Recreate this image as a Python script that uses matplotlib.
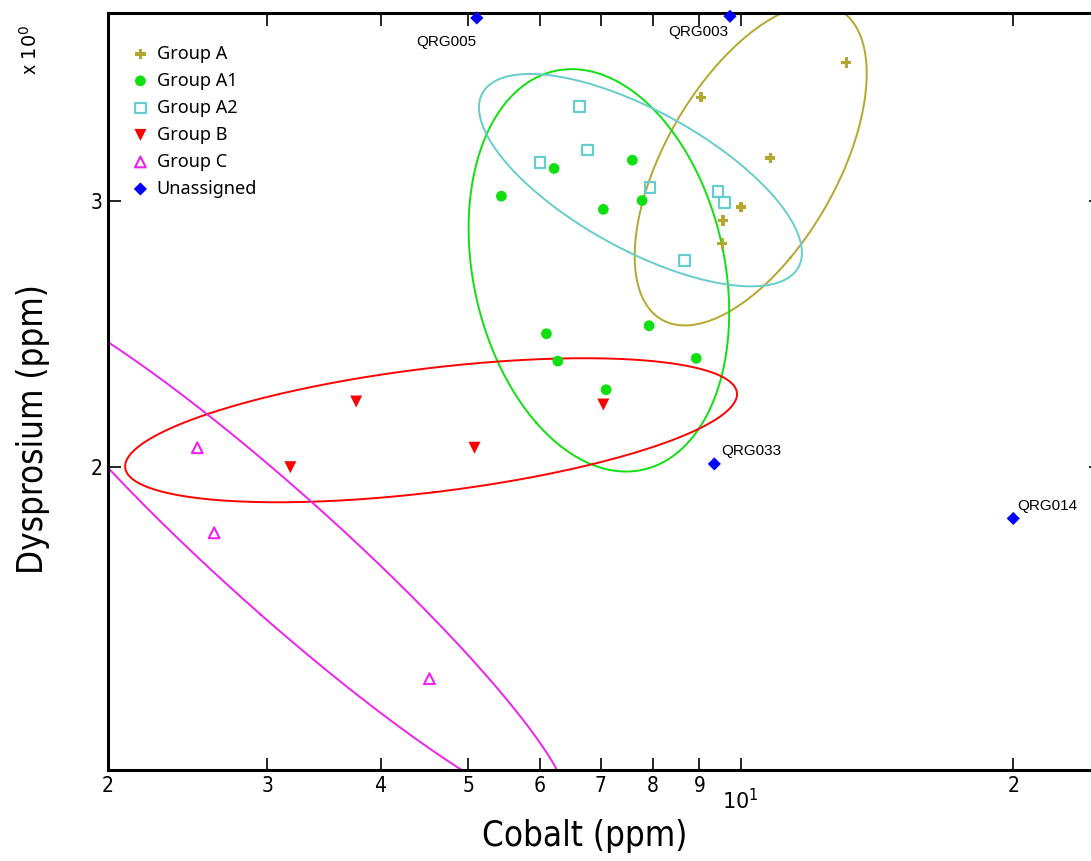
import numpy as np
import matplotlib
matplotlib.use("Agg")
from matplotlib import pyplot as plt
from matplotlib import font_manager
from matplotlib.ticker import FixedLocator, FixedFormatter

# Cobalt (ppm) on x, Dysprosium (ppm) on y, one pair of lists per group
group_a_co = [13.08, 9.04, 10.78, 10.01, 9.56, 9.54]
group_a_dy = [3.70, 3.51, 3.20, 2.97, 2.91, 2.81]

group_a1_co = [5.44, 6.22, 7.59, 7.05, 7.78, 6.10, 6.28, 7.92, 8.93, 7.10]
group_a1_dy = [3.02, 3.15, 3.19, 2.96, 3.00, 2.45, 2.35, 2.48, 2.36, 2.25]

group_a2_co = [6.63, 6.77, 6.00, 7.94, 9.44, 9.59, 8.66]
group_a2_dy = [3.46, 3.24, 3.18, 3.06, 3.04, 2.99, 2.74]

group_b_co = [3.76, 3.18, 5.08, 7.05]
group_b_dy = [2.21, 2.00, 2.06, 2.20]

group_c_co = [2.51, 2.62, 4.53]
group_c_dy = [2.06, 1.81, 1.45]

unassigned_co = [5.11, 9.73, 9.35, 20.0]
unassigned_dy = [3.96, 3.97, 2.01, 1.85]
unassigned_ids = ["QRG005", "QRG003", "QRG033", "QRG014"]

x_minor_ticks = [2, 3, 4, 5, 6, 7, 8, 9, 20]
x_minor_labels = ["2", "3", "4", "5", "6", "7", "8", "9", "2"]
y_ticks = [2, 3]
y_labels = ["2", "3"]

# condensed face for the axis texts, if one is around
cond = None
for f in font_manager.fontManager.ttflist:
    if "Condensed" in f.fname or "Narrow" in f.fname:
        if "Bold" not in f.fname and "Oblique" not in f.fname and "Italic" not in f.fname:
            cond = f.fname
            break
if cond:
    narrow = font_manager.FontProperties(fname=cond)
else:
    narrow = font_manager.FontProperties(family="DejaVu Sans")


def np_copy(fp, size):
    p = fp.copy()
    p.set_size(size)
    return p


def conf_ellipse(xs, ys, k=2.22, n=300):
    # ellipse of the group in log10 space, from mean and sample covariance
    lx, ly = np.log10(xs), np.log10(ys)
    vals, vecs = np.linalg.eigh(np.cov(lx, ly))
    t = np.linspace(0, 2 * np.pi, n)
    circ = np.vstack([np.cos(t), np.sin(t)])
    pts = k * (vecs @ (np.sqrt(vals)[:, None] * circ))
    return 10 ** (lx.mean() + pts[0]), 10 ** (ly.mean() + pts[1])


fig = plt.figure(figsize=(10.91, 8.61), dpi=100)
ax = fig.add_axes([108 / 1091, 91 / 861, 993 / 1091, 757 / 861])
ax.set_xscale("log")
ax.set_yscale("log")
ax.set_xlim(2, 25)
ax.set_ylim(1.262, 3.99)

groups = [
    ("Group A", group_a_co, group_a_dy, "#b5a72e", "P", dict(s=55, edgecolors="none")),
    ("Group A1", group_a1_co, group_a1_dy, "#10e010", "o", dict(s=60, edgecolors="none")),
    ("Group A2", group_a2_co, group_a2_dy, "#66cccc", "s", dict(s=60, facecolors="none", linewidths=1.6)),
    ("Group B", group_b_co, group_b_dy, "#ff0000", "v", dict(s=75, edgecolors="none")),
    ("Group C", group_c_co, group_c_dy, "#ee22ee", "^", dict(s=60, facecolors="none", linewidths=1.5)),
]

for name, xs, ys, col, mk, kw in groups:
    ex, ey = conf_ellipse(xs, ys)
    ax.plot(ex, ey, color=col, lw=1.4, zorder=2)
    if "facecolors" in kw:
        ax.scatter(xs, ys, marker=mk, edgecolors=col, label=name, zorder=3, **kw)
    else:
        ax.scatter(xs, ys, marker=mk, color=col, label=name, zorder=3, **kw)

ax.scatter(unassigned_co, unassigned_dy, marker="D", s=45, color="#0000ff",
           edgecolors="none", label="Unassigned", zorder=4, clip_on=False)

# sample labels next to the unassigned points
offsets = [(0, -17, "right"), (-1, -11, "right"), (5, 9, "left"), (3, 9, "left")]
for x, y, lab, (dx, dy, ha) in zip(unassigned_co, unassigned_dy, unassigned_ids, offsets):
    ax.annotate(lab, (x, y), xytext=(dx, dy), textcoords="offset points",
                ha=ha, va="center", fontsize=11, family="Liberation Sans")

# ticks
ax.xaxis.set_major_locator(FixedLocator([10]))
ax.xaxis.set_major_formatter(FixedFormatter([r"$10^1$"]))
ax.xaxis.set_minor_locator(FixedLocator(x_minor_ticks))
ax.xaxis.set_minor_formatter(FixedFormatter(x_minor_labels))
ax.yaxis.set_major_locator(FixedLocator(y_ticks))
ax.yaxis.set_major_formatter(FixedFormatter(y_labels))
ax.yaxis.set_minor_locator(FixedLocator([]))
ax.tick_params(which="both", direction="in", length=9, width=1.2,
               top=True, right=True, labelsize=15, pad=4)
ax.tick_params(axis="x", which="major", pad=13)
for lab in ax.get_xticklabels(which="both") + ax.get_yticklabels():
    lab.set_fontproperties(np_copy(narrow, 15))
for sp in ax.spines.values():
    sp.set_linewidth(2.2)

ax.set_xlabel("Cobalt (ppm)", fontproperties=np_copy(narrow, 25), va="center")
ax.xaxis.set_label_coords(0.48, -0.087)
ax.set_ylabel("Dysprosium (ppm)", fontproperties=np_copy(narrow, 25), va="center")
ax.yaxis.set_label_coords(-0.076, 0.45)
fig.text(30 / 1091, 1 - 50 / 861, r"x $10^0$", rotation=90,
         ha="center", va="center", fontproperties=np_copy(narrow, 14))

leg = ax.legend(loc="upper left", bbox_to_anchor=(0.009, 0.975), frameon=False,
                prop={"family": "Noto Sans", "size": 13}, handletextpad=0.3,
                labelspacing=0.5, handlelength=1.2, borderaxespad=0.3)

fig.savefig("out.png", dpi=100)
